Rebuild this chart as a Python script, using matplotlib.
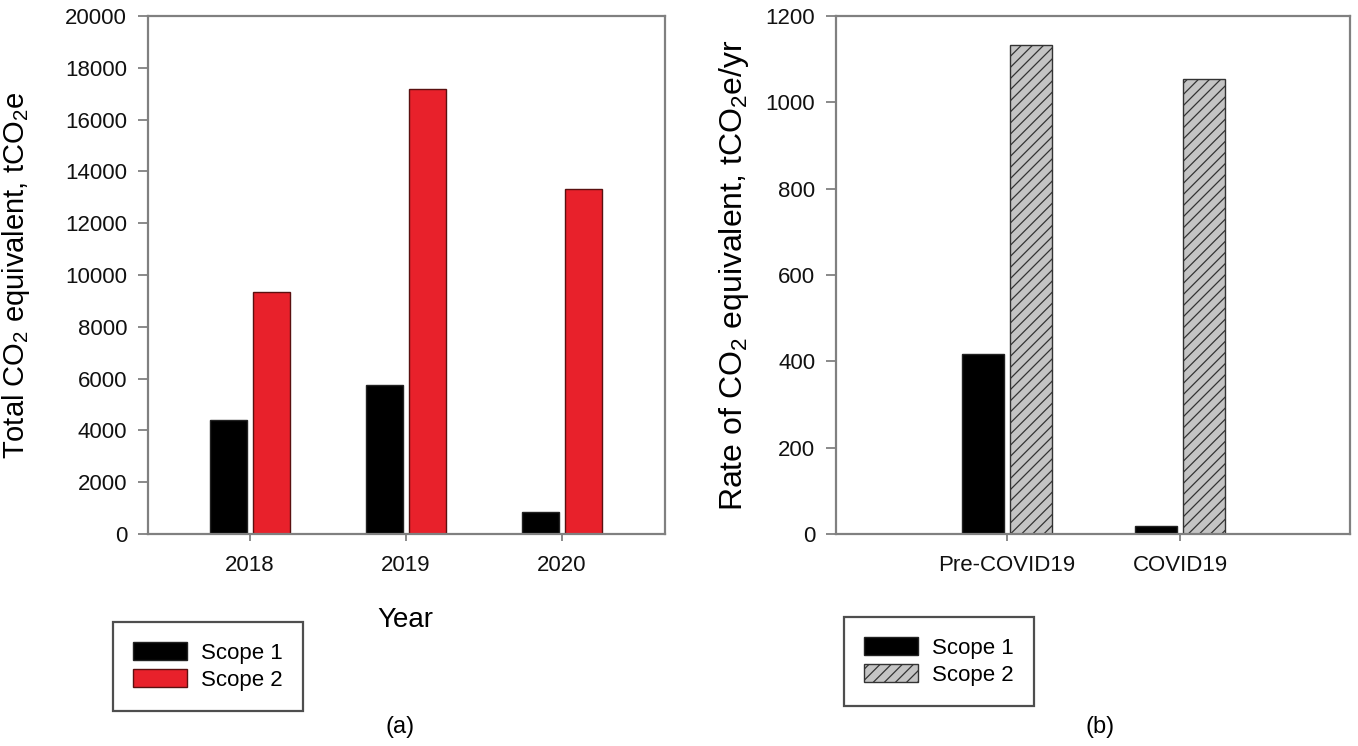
import matplotlib.pyplot as plt
import numpy as np

plt.rcParams['font.family'] = ['Liberation Sans', 'DejaVu Sans']
plt.rcParams['mathtext.fontset'] = 'custom'
plt.rcParams['mathtext.rm'] = 'Liberation Sans'
plt.rcParams['hatch.linewidth'] = 0.9

# data
years = ['2018', '2019', '2020']
total_scope1 = [4390, 5750, 850]
total_scope2 = [9350, 17190, 13320]

periods = ['Pre-COVID19', 'COVID19']
rate_scope1 = [416, 18]
rate_scope2 = [1132, 1053]

RED = '#e8212b'
GREY = '#808080'

fig = plt.figure(figsize=(13.58, 7.46), dpi=100)
ax1 = fig.add_axes([148 / 1358, 1 - 534 / 746, 517 / 1358, 518 / 746])
ax2 = fig.add_axes([836 / 1358, 1 - 534 / 746, 514 / 1358, 518 / 746])


def style(ax):
    for s in ax.spines.values():
        s.set_color(GREY)
        s.set_linewidth(1.6)
    ax.tick_params(axis='y', direction='out', length=7, width=1.3, color=GREY,
                   pad=8, labelsize=16, labelcolor='#111111')
    ax.tick_params(axis='x', direction='out', length=5, width=1.3, color=GREY,
                   pad=10, labelsize=16, labelcolor='#111111')


def add_legend(ax, x0, y0):
    leg = ax.legend(loc='upper left', bbox_to_anchor=(x0 / 1358, 1 - y0 / 746),
                    bbox_transform=fig.transFigure, fontsize=16, frameon=True,
                    fancybox=False, edgecolor='#222222', handlelength=2.45,
                    handleheight=0.85, borderpad=0.9, labelspacing=0.25,
                    handletextpad=0.6, borderaxespad=0)
    leg.get_frame().set_linewidth(1.6)


# (a) totals per year
x = np.arange(len(years))
w = 0.237
off = 0.138
ax1.bar(x - off, total_scope1, w, color='black', edgecolor='#222222', linewidth=1, label='Scope 1')
ax1.bar(x + off, total_scope2, w, color=RED, edgecolor='#5a1010', linewidth=1, label='Scope 2')
ax1.set_xlim(-0.654, 2.66)
ax1.set_ylim(0, 20000)
ax1.set_yticks(np.arange(0, 20001, 2000))
ax1.set_xticks(x)
ax1.set_xticklabels(years)
style(ax1)
ax1.set_ylabel(r'Total CO$_\mathregular{2}$ equivalent, tCO$_\mathregular{2}$e', fontsize=21)
ax1.yaxis.set_label_coords(-0.224, 0.5)
ax1.set_xlabel('Year', fontsize=20)
ax1.xaxis.set_label_coords(0.497, -0.14)
add_legend(ax1, 113, 622)

# (b) rates before / during COVID19
x2 = np.arange(len(periods))
w2 = 0.243
ax2.bar(x2 - off, rate_scope1, w2, color='black', edgecolor='#222222', linewidth=1, label='Scope 1')
ax2.bar(x2 + off, rate_scope2, w2, color='#c4c4c4', edgecolor='#333333', linewidth=1,
        hatch='///', label='Scope 2')
ax2.set_xlim(-0.988, 1.98)
ax2.set_ylim(0, 1200)
ax2.set_yticks(np.arange(0, 1201, 200))
ax2.set_xticks(x2)
ax2.set_xticklabels(periods)
style(ax2)
ax2.set_ylabel(r'Rate of CO$_\mathregular{2}$ equivalent, tCO$_\mathregular{2}$e/yr', fontsize=23)
ax2.yaxis.set_label_coords(-0.165, 0.5)
add_legend(ax2, 844, 617)

fig.text(400 / 1358, 1 - 727 / 746, '(a)', fontsize=17, ha='center', va='center')
fig.text(1100 / 1358, 1 - 727 / 746, '(b)', fontsize=17, ha='center', va='center')

fig.savefig('out.png', dpi=100)
